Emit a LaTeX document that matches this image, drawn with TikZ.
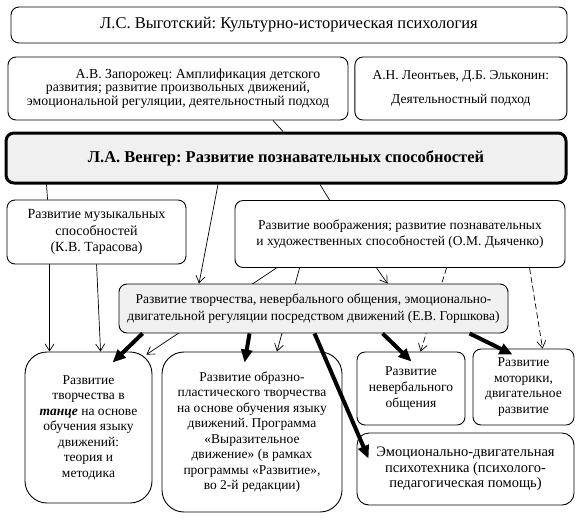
\documentclass[tikz,border=0pt]{standalone}
\usepackage{fontspec}
\setmainfont{Liberation Serif}
\usepackage{xcolor}
\usepackage{tikz}
\usetikzlibrary{shapes, arrows.meta, positioning, calc}
\definecolor{vengergray}{RGB}{240, 240, 240}
\pgfdeclarelayer{background}
\pgfsetlayers{background,main}
\frenchspacing

\begin{document}
\begin{tikzpicture}[
    x=1pt, y=-1pt,
    block/.style={rectangle, rounded corners=8pt, draw, line width=0.9pt, align=center, inner sep=2pt, font=\fontsize{13.5}{15.5}\selectfont},
    keyblock/.style={block, line width=3pt, fill=vengergray},
    arrow/.style={-{Straight Barb[length=7pt, width=9pt]}, line width=0.7pt},
    boldarrow/.style={-{Triangle[length=13pt, width=11pt]}, line width=4pt},
    dasharrow/.style={arrow, dash pattern=on 6pt off 3pt},
    link/.style={line width=0.7pt}
]

\useasboundingbox (0,0) rectangle (580,520);

\node[block, minimum width=556pt, minimum height=36pt, font=\fontsize{16.5}{18}\selectfont] (vyg) at (289,25) {Л.С. Выготский: Культурно-историческая психология};
\node[block, minimum width=340pt, minimum height=63pt, font=\fontsize{13.8}{13.5}\selectfont] (zap) at (178,88.5) {\hspace*{40pt}А.В. Запорожец: Амплификация детского\\ развития; развитие произвольных движений,\\ эмоциональной регуляции, деятельностный подход};
\node[block, minimum width=212pt, minimum height=63pt, right=6pt of zap] (leon) {А.Н. Леонтьев, Д.Б. Эльконин:\\[8pt] Деятельностный подход};
\node[keyblock, minimum width=560pt, minimum height=50pt, font=\fontsize{16.5}{18}\selectfont\bfseries] (venger) at (286,158) {Л.А. Венгер: Развитие познавательных способностей};

\node[block, minimum width=179pt, minimum height=64pt, font=\fontsize{14}{16.5}\selectfont] (music) at (96.5,232) {Развитие музыкальных\\ способностей\\ (К.В. Тарасова)};
\node[block, minimum width=330pt, minimum height=67pt] (imag) at (400,234) {Развитие воображения; развитие познавательных\\ и художественных способностей (О.М. Дьяченко)};
\node[block, minimum width=389pt, minimum height=49pt, fill=vengergray, font=\fontsize{13.5}{17.5}\selectfont] (gorsh) at (313.5,308.5) {Развитие творчества, невербального общения, эмоционально-\\ двигательной регуляции посредством движений (Е.В. Горшкова)};

\node[block, rounded corners=22pt, minimum width=127pt, minimum height=151pt] (dance) at (88.5,427.5) {Развитие\\ творчества в\\ \textbf{\textit{танце}} на основе\\ обучения языку\\ движений:\\ теория и\\ методика};
\node[block, rounded corners=22pt, minimum width=180pt, minimum height=160pt] (imagery) at (252,432) {Развитие образно-\\ пластического творчества\\ на основе обучения языку\\ движений. Программа\\ «Выразительное\\ движение» (в рамках\\ программы «Развитие»,\\ во 2-й редакции)};
\node[block, minimum width=108pt, minimum height=73pt, font=\fontsize{13.5}{16}\selectfont] (nonverb) at (411,388.5) {Развитие\\ невербального\\ общения};
\node[block, minimum width=101pt, minimum height=76pt] (motor) at (523.5,387) {Развитие\\ моторики,\\ двигательное\\ развитие};
\node[block, rounded corners=12pt, minimum width=217pt, minimum height=72pt, font=\fontsize{14.5}{15.5}\selectfont] (psycho) at (465.5,469) {Эмоционально-двигательная\\ психотехника (психолого-\\ педагогическая помощь)};

% plain links
\draw[link] ([xshift=95pt]zap.south) -- ([xshift=-3pt]venger.north);
\draw[link] ([xshift=42pt]venger.south west) -- ([xshift=41pt]music.north west);
\draw[link] ([xshift=34pt]venger.south) -- ([xshift=95pt]imag.north west);

% thin arrows
\draw[arrow] ([xshift=-68pt]venger.south) -- ([xshift=-114.5pt]gorsh.north);
\draw[arrow] ([xshift=43pt]music.south west) -- ([xshift=25pt]dance.north west);
\draw[arrow] ([xshift=90pt]music.south west) -- ([xshift=76pt]dance.north west);
\draw[arrow] ([xshift=142pt]imag.south west) -- ([xshift=269pt]gorsh.north west);
\draw[dasharrow] ([xshift=295pt]imag.south west) -- ([xshift=70pt]motor.north west);
\begin{pgfonlayer}{background}
\draw[arrow] ([xshift=42pt]imag.south west) -- ([xshift=-6pt,yshift=-3pt]dance.north east);
\draw[arrow] ([xshift=65pt]imag.south west) -- ([xshift=25pt]imagery.north);
\draw[dasharrow] ([xshift=212pt]imag.south west) -- ([xshift=64pt]nonverb.north west);
\end{pgfonlayer}

% bold arrows
\draw[boldarrow] ([xshift=24pt]gorsh.south west) -- ([xshift=88pt,yshift=-11pt]dance.north west);
\draw[boldarrow] ([xshift=131pt]gorsh.south west) -- ([xshift=83pt,yshift=-11pt]imagery.north west);
\draw[boldarrow] ([xshift=196pt]gorsh.south west) -- ([xshift=12pt,yshift=-26pt]psycho.north west);
\draw[boldarrow] ([xshift=264pt]gorsh.south west) -- ([xshift=55pt,yshift=-10pt]nonverb.north west);
\draw[boldarrow] ([xshift=351pt]gorsh.south west) -- ([xshift=40pt,yshift=-6pt]motor.north west);

\end{tikzpicture}
\end{document}
